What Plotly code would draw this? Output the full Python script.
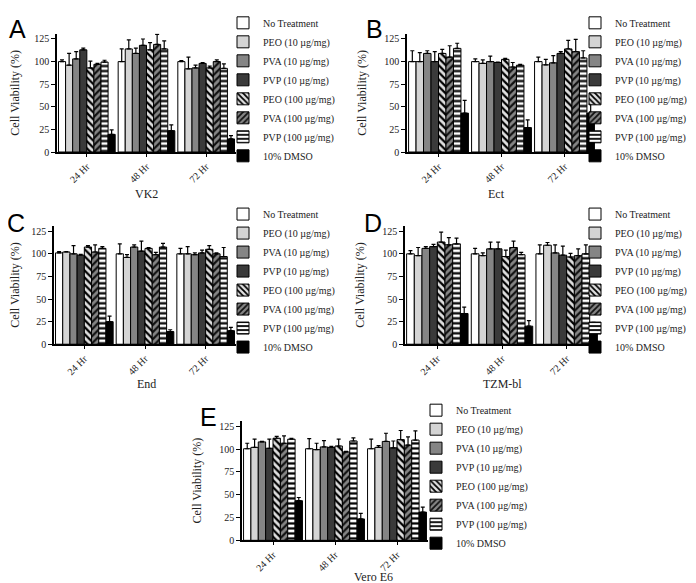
import plotly.graph_objects as go

times = ["24 Hr", "48 Hr", "72 Hr"]
treatments = ["No Treatment", "PEO (10 µg/mg)", "PVA (10 µg/mg)", "PVP (10 µg/mg)",
              "PEO (100 µg/mg)", "PVA (100 µg/mg)", "PVP (100 µg/mg)", "10% DMSO"]
panel_letters = ["A", "B", "C", "D", "E"]
cell_lines = ["VK2", "Ect", "End", "TZM-bl", "Vero E6"]
y_ticks = [0, 25, 50, 75, 100, 125]

# rows = treatments, columns = 24/48/72 Hr
vk2_mean = [[100, 100, 100], [96, 114, 92], [103, 109, 93], [113, 118, 98],
            [93, 113, 93], [97, 119, 100], [99.5, 114, 92.5], [19.5, 23.6, 14.5]]
vk2_err = [[2, 14, 1], [13, 10, 13], [8, 6, 3], [2, 7, 1],
           [7.5, 8, 2], [1, 11, 2], [2, 9, 5], [5, 6.4, 3.6]]

ect_mean = [[100, 100, 100], [100, 98, 96.4], [109, 100, 98.6], [100, 99, 109],
            [109, 102.5, 114], [105, 94, 111], [114.6, 96, 104], [43, 27, 43]]
ect_err = [[12, 3, 5], [10, 4, 6], [3, 6, 8], [11, 0.5, 2],
           [4.6, 1, 9.5], [12.5, 5, 13.6], [5.7, 1, 8], [14, 8.5, 10]]

end_mean = [[101, 100, 100], [102, 96, 100], [100, 107.5, 99], [98.5, 103, 101],
            [107.5, 106, 105], [102, 99, 100], [106, 107.5, 97], [25, 14, 15]]
end_err = [[1.5, 11, 6], [0.5, 3, 8], [9, 2.5, 2], [1, 11, 3],
           [1.5, 0.8, 4], [8, 2.5, 1], [2, 4, 10], [6, 2, 3.6]]

tzm_mean = [[100, 100, 100], [98, 98, 109.5], [106, 105.5, 101], [108, 105.5, 98.5],
            [113, 97, 96.5], [110, 107, 98], [111, 99, 100], [34, 20, 20]]
tzm_err = [[3.5, 6, 10], [9, 3, 3], [2, 7.5, 9], [2.5, 7.5, 10],
           [11, 7, 4], [8, 7, 7.5], [6.4, 2.5, 10], [7, 6, 4.3]]

vero_mean = [[100.5, 100.5, 100.5], [102, 99.5, 102], [108, 102.5, 108.5], [101, 102, 101.5],
             [112, 103.5, 110.5], [106.5, 97, 104.5], [111, 109, 110], [43.5, 23.5, 31]]
vero_err = [[6, 11, 10.5], [9, 7, 2], [0.7, 7, 9], [10, 1, 7.5],
            [2, 7.5, 10], [8, 0.7, 9], [1, 3.5, 10], [3.5, 6, 5.5]]

means = [vk2_mean, ect_mean, end_mean, tzm_mean, vero_mean]
errs = [vk2_err, ect_err, end_err, tzm_err, vero_err]

# styles per treatment: (fill, pattern shape, pattern fg, pattern bg)
styles = [
    ("white", "", None, None),
    ("#d4d4d4", "", None, None),
    ("#858585", "", None, None),
    ("#3a3a3a", "", None, None),
    ("#d0d0d0", "\\", "black", "#e0e0e0"),
    ("#858585", "/", "#111111", "#858585"),
    ("white", "-", "black", "white"),
    ("black", "", None, None),
]

W, H = 696, 583
# panel geometry in pixels: (x_left, x_right, y_bottom(0), y_top(axis end))
geom = [
    (49, 228, 137, 15),
    (399, 588, 137, 15),
    (46, 228, 335, 213),
    (397, 591, 335, 213),
    (234, 420, 537, 414),
]
legend_pos = [(215, -11), (567, -11), (215, 186), (567, 186), (408, 388)]
letter_pos = [(9, 10), (366, 10), (8, 210), (365, 210), (200, 410)]
xtitle_pos = [(138, 180), (488, 180), (138, 376), (495, 376), (365, 575)]

serif = "Liberation Serif"
fig = go.Figure()

for p in range(5):
    ax = "" if p == 0 else str(p + 1)
    leg = "legend" if p == 0 else "legend" + str(p + 1)
    for t in range(8):
        fill, shape, fg, bg = styles[t]
        marker = dict(color=fill, line=dict(color="black", width=1))
        if shape:
            marker["pattern"] = dict(shape=shape, fgcolor=fg, bgcolor=bg,
                                     size=5, solidity=0.45, fillmode="replace")
        fig.add_trace(go.Bar(
            x=times, y=means[p][t], name=treatments[t],
            marker=marker,
            error_y=dict(type="data", array=errs[p][t], arrayminus=[0, 0, 0],
                         symmetric=False, color="black", thickness=1.2, width=2),
            xaxis="x" + ax, yaxis="y" + ax, legend=leg, showlegend=True,
        ))
    xl, xr, yb, yt = geom[p]
    fig.layout["xaxis" + ax] = dict(
        domain=[xl / W, xr / W], anchor="y" + ax, type="category",
        range=[-0.5, 2.5], showline=True, linecolor="black", linewidth=1.5,
        ticks="outside", ticklen=3, tickwidth=1, tickcolor="black",
        tickangle=-45, tickfont=dict(family=serif, size=10, color="#222"),
        showgrid=False, zeroline=False,
    )
    fig.layout["yaxis" + ax] = dict(
        domain=[1 - yb / H, 1 - yt / H], anchor="x" + ax,
        range=[0, 131], tickvals=y_ticks, showline=True, linecolor="black",
        linewidth=1.5, ticks="outside", ticklen=4, tickwidth=1.2, tickcolor="black",
        tickfont=dict(family=serif, size=10, color="#222"),
        title=dict(text="Cell Viability (%)", font=dict(family=serif, size=12, color="#222")),
        showgrid=False, zeroline=False,
    )
    lx, ly = legend_pos[p]
    fig.layout[leg] = dict(
        x=lx / W, y=1 - ly / H, xanchor="left", yanchor="top",
        font=dict(family=serif, size=10, color="#222"), bgcolor="rgba(0,0,0,0)",
        tracegroupgap=0, itemwidth=30,
    )
    px_, py_ = letter_pos[p]
    fig.add_annotation(text=panel_letters[p], x=px_ / W, y=1 - py_ / H,
                       xref="paper", yref="paper", showarrow=False,
                       xanchor="center", yanchor="middle",
                       font=dict(family="Liberation Sans", size=25, color="black"))
    tx, ty = xtitle_pos[p]
    fig.add_annotation(text=cell_lines[p], x=tx / W, y=1 - ty / H,
                       xref="paper", yref="paper", showarrow=False,
                       xanchor="center", yanchor="middle",
                       font=dict(family=serif, size=12, color="#222"))

fig.update_layout(
    width=W, height=H, margin=dict(l=0, r=0, t=0, b=0),
    barmode="group", bargap=0.05, bargroupgap=0,
    paper_bgcolor="white", plot_bgcolor="white",
)

fig.write_html("out.html")
